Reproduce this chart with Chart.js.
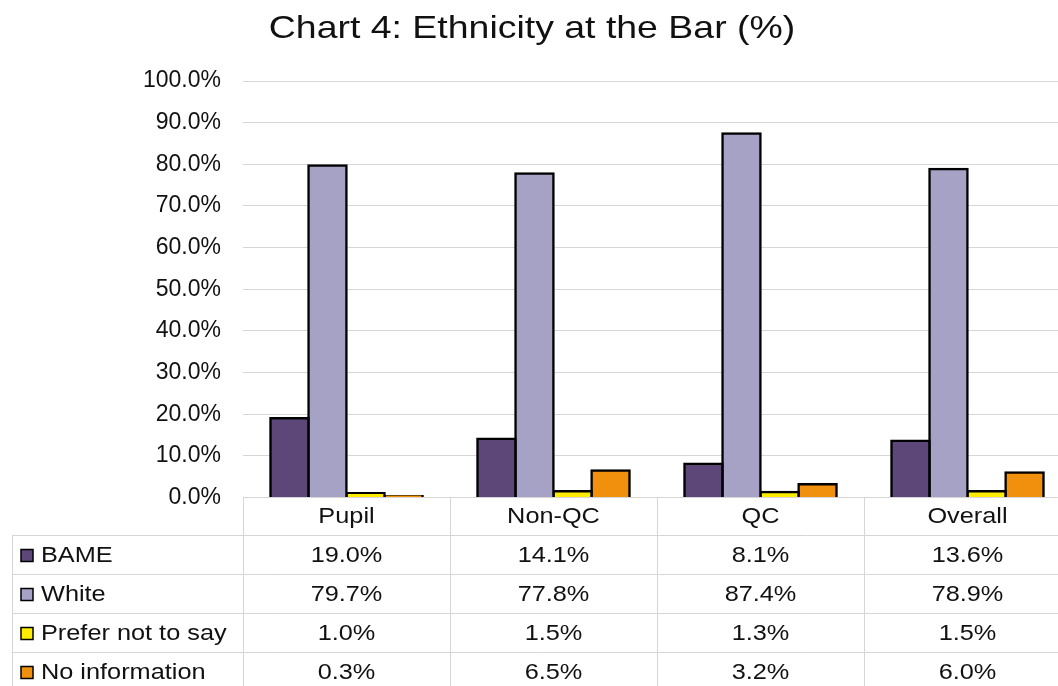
<!DOCTYPE html>
<html>
<head>
<meta charset="utf-8">
<script src="https://cdn.jsdelivr.net/npm/chart.js@4/dist/chart.umd.min.js"></script>
<style>
  html, body { margin: 0; padding: 0; overflow: hidden; background: #fff; }
  #wrap { width: 1072px; height: 686px; }
</style>
</head>
<body>
<div id="wrap"><canvas id="c" width="1072" height="686"></canvas></div>
<script>
// Ethnicity at the Bar, percentage by call group
const categories = ['Pupil', 'Non-QC', 'QC', 'Overall'];
const bame = [19.0, 14.1, 8.1, 13.6];
const white = [79.7, 77.8, 87.4, 78.9];
const preferNotToSay = [1.0, 1.5, 1.3, 1.5];
const noInformation = [0.3, 6.5, 3.2, 6.0];
const seriesNames = ['BAME', 'White', 'Prefer not to say', 'No information'];
const seriesColors = ['#5d4678', '#a6a2c6', '#ffec00', '#f0900c'];
const chartTitle = 'Chart 4: Ethnicity at the Bar (%)';

const FONT = '"Liberation Sans", Arial, sans-serif';
const GRID = '#d6d6d6';
const INK = '#111';

const seriesValues = [bame, white, preferNotToSay, noInformation];

const fmt = v => v.toFixed(1) + '%';

// text drawn with a slight horizontal stretch (wide-set face)
function wideText(ctx, text, x, y, align, sx) {
  ctx.save();
  ctx.translate(x, y);
  ctx.scale(sx, 1);
  ctx.textAlign = align;
  ctx.fillText(text, 0, 0);
  ctx.restore();
}

// Title centred above the plot
const titleBlock = {
  id: 'titleBlock',
  afterDraw(chart) {
    const ctx = chart.ctx;
    ctx.save();
    ctx.fillStyle = INK;
    ctx.textBaseline = 'middle';
    ctx.font = '32px ' + FONT;
    wideText(ctx, chartTitle, 532, 29, 'center', 1.17);
    ctx.restore();
  }
};

// Data table drawn under the plot, aligned to the category scale
const dataTable = {
  id: 'dataTable',
  afterDraw(chart) {
    const ctx = chart.ctx;
    const area = chart.chartArea;
    const x = chart.scales.x;
    const n = categories.length;
    const catW = (area.right - area.left) / n;
    const top = area.bottom;
    const headerH = 37.5;
    const rowH = 39;
    const leftEdge = 12.5;
    const bottomEdge = chart.height;
    const sx = 1.15;

    ctx.save();
    ctx.strokeStyle = GRID;
    ctx.lineWidth = 1;

    // horizontal rules
    ctx.beginPath();
    for (let r = 0; r <= seriesNames.length; r++) {
      const y = Math.round(top + headerH + r * rowH) + 0.5;
      ctx.moveTo(leftEdge, y);
      ctx.lineTo(area.right, y);
    }
    // vertical rules: category boundaries
    for (let k = 0; k <= n; k++) {
      const xx = Math.round(area.left + k * catW) + 0.5;
      ctx.moveTo(xx, top);
      ctx.lineTo(xx, bottomEdge);
    }
    // outer left edge of the legend column
    ctx.moveTo(leftEdge, top + headerH);
    ctx.lineTo(leftEdge, bottomEdge);
    ctx.stroke();

    ctx.fillStyle = INK;
    ctx.textBaseline = 'middle';
    ctx.font = '22px ' + FONT;

    // header row: category names
    categories.forEach((c, i) => {
      wideText(ctx, c, x.getPixelForValue(i), top + headerH / 2 + 1, 'center', sx);
    });

    // series rows
    seriesNames.forEach((name, r) => {
      const cy = top + headerH + r * rowH + rowH / 2 + 1;
      // legend key
      ctx.fillStyle = seriesColors[r];
      ctx.fillRect(21, cy - 6, 12, 12);
      ctx.strokeStyle = '#000';
      ctx.lineWidth = 1.5;
      ctx.strokeRect(21, cy - 6, 12, 12);
      ctx.fillStyle = INK;
      wideText(ctx, name, 41, cy, 'left', sx);
      seriesValues[r].forEach((v, i) => {
        wideText(ctx, fmt(v), x.getPixelForValue(i), cy, 'center', sx);
      });
    });
    ctx.restore();
  }
};

new Chart(document.getElementById('c'), {
  type: 'bar',
  data: {
    labels: categories,
    datasets: seriesNames.map((name, i) => ({
      label: name,
      data: seriesValues[i],
      backgroundColor: seriesColors[i],
      borderColor: '#000',
      borderWidth: 2.5,
      inflateAmount: 1.25,
      borderSkipped: 'start',
      categoryPercentage: 0.735,
      barPercentage: 1.0
    }))
  },
  options: {
    responsive: false,
    animation: false,
    devicePixelRatio: 1,
    layout: { padding: { left: 0, right: 1, top: 81, bottom: 188.5 } },
    plugins: {
      legend: { display: false },
      tooltip: { enabled: false },
      title: { display: false }
    },
    scales: {
      x: { display: false },
      y: {
        min: 0,
        max: 100,
        afterFit(scale) { scale.width = 243; },
        border: { display: false },
        grid: { color: GRID, drawTicks: false, lineWidth: 1 },
        ticks: {
          stepSize: 10,
          padding: 22,
          color: INK,
          font: { family: FONT, size: 23 },
          callback: v => fmt(v)
        }
      }
    }
  },
  plugins: [titleBlock, dataTable]
});
</script>
</body>
</html>
